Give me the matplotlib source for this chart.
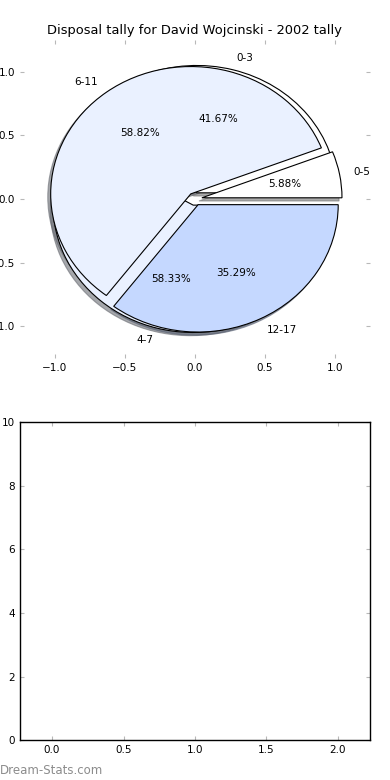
import matplotlib
matplotlib.use('Agg')
import matplotlib.pyplot as plt

# 2002 tally, two groupings drawn on top of each other
labels_a = ['0-3', '4-7']
values_a = [5, 7]
labels_b = ['0-5', '6-11', '12-17']
values_b = [1, 10, 6]

colors = ['#ffffff', '#eaf1ff', '#c5d8ff']
tick_vals = [-1.0, -0.5, 0.0, 0.5, 1.0]
bar_ticks = [0.0, 0.5, 1.0, 1.5, 2.0]
bar_yticks = [0, 2, 4, 6, 8, 10]

fig = plt.figure(figsize=(3.9, 7.8), dpi=100)
fig.subplots_adjust(left=0.051, right=0.949, top=0.949, bottom=0.051, hspace=0.2)

ax = fig.add_subplot(2, 1, 1)
wprops = dict(edgecolor='black', linewidth=0.8)
shadow = dict(ox=-0.015, oy=-0.018, shade=0.55, alpha=0.6)
ax.pie(values_a, labels=labels_a, colors=colors[:2], explode=[0.05] * 2,
       autopct='%1.2f%%', shadow=shadow, wedgeprops=wprops,
       textprops=dict(fontsize=7.5))
ax.pie(values_b, labels=labels_b, colors=colors, explode=[0.05] * 3,
       autopct='%1.2f%%', shadow=shadow, wedgeprops=wprops,
       textprops=dict(fontsize=7.5))
ax.set_aspect('auto')
ax.set_frame_on(False)
ax.set_xlim(-1.25, 1.25)
ax.set_ylim(-1.25, 1.25)
ax.set_xticks(tick_vals)
ax.set_yticks(tick_vals)
ax.tick_params(direction='in', length=3, color='#b8b8b8', labelsize=7.5,
               top=True, right=True, pad=3.5)
ax.set_title('Disposal tally for David Wojcinski - 2002 tally', fontsize=9.4, pad=4.5)

ax2 = fig.add_subplot(2, 1, 2)
ax2.set_xlim(-0.225, 2.225)
ax2.set_ylim(0, 10)
ax2.set_xticks(bar_ticks)
ax2.set_yticks(bar_yticks)
ax2.tick_params(direction='in', length=3, color='#b8b8b8', labelsize=7.5,
                top=True, right=True, pad=3.5)
for s in ax2.spines.values():
    s.set_linewidth(1.0)

fig.text(0.0, 0.0125, 'Dream-Stats.com', color='#8c8c8c', fontsize=8.5,
         ha='left', va='center')

plt.savefig('out.png', dpi=100)
plt.close()
